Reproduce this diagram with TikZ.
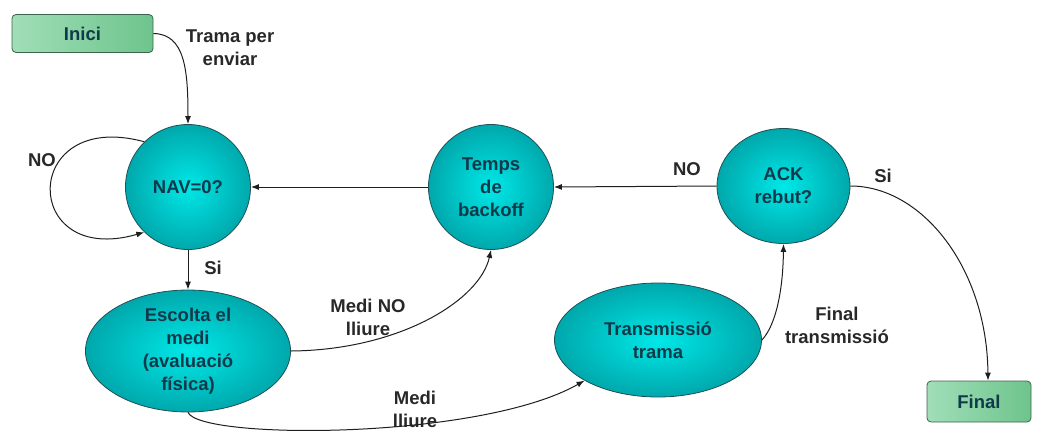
\documentclass[tikz,border=0pt]{standalone}
\usepackage{fontspec}
\setmainfont{Liberation Sans}
\usetikzlibrary{shapes.geometric,arrows.meta}
\definecolor{tealin}{RGB}{0,232,232}
\definecolor{tealout}{RGB}{0,168,172}
\definecolor{tealdraw}{RGB}{30,80,85}
\definecolor{nodetext}{RGB}{16,58,74}
\definecolor{labeltext}{RGB}{40,40,40}
\definecolor{boxleft}{RGB}{160,222,184}
\definecolor{boxright}{RGB}{110,196,140}
\definecolor{boxdraw}{RGB}{60,100,75}
\definecolor{arrowcol}{RGB}{30,30,30}
\tikzset{
  stateshape/.style={draw=tealdraw, line width=0.8pt, inner color=tealin, outer color=tealout,
    text=nodetext, align=center, inner sep=0pt,
    font=\fontsize{18.5}{23}\selectfont\bfseries},
  statecircle/.style={stateshape, circle, minimum size=125pt},
  stateellipse/.style={stateshape, ellipse},
  termbox/.style={draw=boxdraw, line width=0.8pt, rounded corners=4pt, left color=boxleft, right color=boxright,
    text=nodetext, inner sep=0pt, font=\fontsize{18.5}{23}\selectfont\bfseries},
  lbl/.style={text=labeltext, align=center, inner sep=0pt, font=\fontsize{18.5}{23}\selectfont\bfseries},
  conn/.style={draw=arrowcol, line width=1pt, -{Latex[length=8pt,width=6pt]}}
}
\begin{document}
\begin{tikzpicture}[x=1pt,y=-1pt]
\useasboundingbox (0,0) rectangle (1038,437);

\node[termbox, minimum width=141pt, minimum height=38pt] (inici) at (82.5,33.5) {Inici};
\node[termbox, minimum width=104pt, minimum height=41pt] (final) at (979,401.5) {Final};

\node[statecircle] (nav) at (188,187) {NAV=0?};
\node[statecircle] (backoff) at (491,187) {Temps\\de\\backoff};
\node[stateellipse, minimum width=133pt, minimum height=115pt] (ack) at (783.5,186) {ACK\\rebut?};
\node[stateellipse, minimum width=205pt, minimum height=112pt] (escolta) at (188,351) {Escolta el\\medi\\(avaluació\\física)};
\node[stateellipse, minimum width=207pt, minimum height=114pt] (trans) at (658,340) {Transmissió\\trama};

% labels
\node[lbl] (ltrama) at (230,48) {Trama per\\enviar};
\node[lbl] (lno1) at (42,160) {NO};
\node[lbl] (lsi1) at (213,268) {Si};
\node[lbl] (lmedino) at (368,317) {Medi NO\\lliure};
\node[lbl] (lmedi) at (415,409) {Medi\\lliure};
\node[lbl] (lfinal) at (837,325) {Final\\transmissió};
\node[lbl] (lno2) at (687,169) {NO};
\node[lbl] (lsi2) at (883,176) {Si};

% connectors
\draw[conn] (inici.east) .. controls (185,34) and (188,70) .. (nav.north);
\draw[conn] (nav.134) .. controls (20,108) and (20,268) .. (nav.226);
\draw[conn] (backoff.west) -- (nav.east);
\draw[conn] (ack.west) -- (backoff.east);
\draw[conn] (nav.south) -- (escolta.north);
\draw[conn] (escolta.east) .. controls (400,350) and (480,300) .. (backoff.south);
\draw[conn] (escolta.south) .. controls (200,440) and (480,440) .. (trans.south west);
\draw[conn] (trans.east) .. controls (776,325) and (783,290) .. (ack.south);
\draw[conn] (ack.east) .. controls (922,186) and (987,268) .. ([xshift=9pt]final.north);
\end{tikzpicture}
\end{document}
